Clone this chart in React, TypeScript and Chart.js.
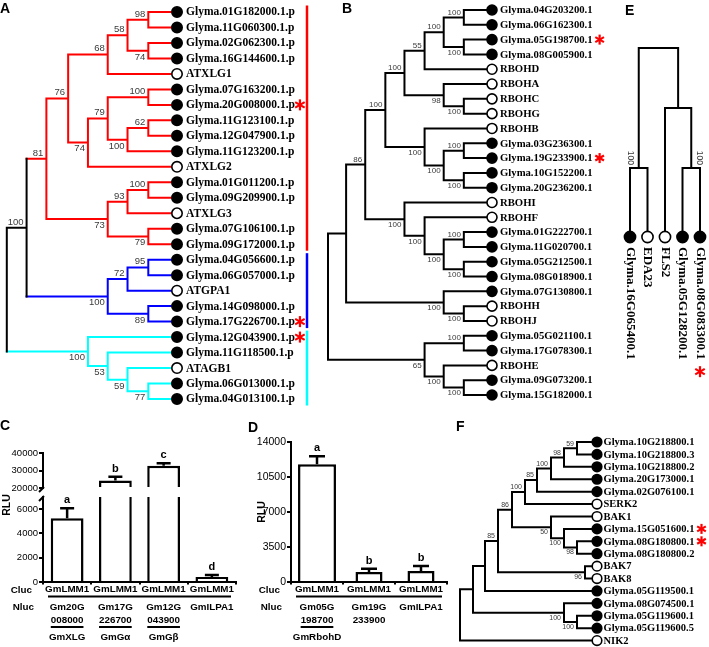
import React, { useEffect, useRef } from 'react';
import { Chart, registerables } from 'chart.js';

Chart.register(...registerables);

const W = 709;
const H = 647;
const SANS = '"Liberation Sans", Arial, sans-serif';
const SERIF = '"Liberation Serif", "Times New Roman", serif';

// ================= DATA =================
// Panel A : G-protein subunit tree (Newick, branch lengths, bootstrap labels)
const treeA =
  '(((((((Glyma.01G182000.1.p:29,Glyma.11G060300.1.p:29)98:21,(Glyma.02G062300.1.p:29,Glyma.16G144600.1.p:29)74:21)58:20,ATXLG1:70)68:40,' +
  '(((Glyma.07G163200.1.p:29,Glyma.20G008000.1.p:29)100:41,((Glyma.11G123100.1.p:29,Glyma.12G047900.1.p:29)62:21,Glyma.11G123200.1.p:50)100:20)79:20,ATXLG2:90)74:20)76:22,' +
  '(((Glyma.01G011200.1.p:29,Glyma.09G209900.1.p:29)100:21,ATXLG3:50)93:20,(Glyma.07G106100.1.p:29,Glyma.09G172000.1.p:29)79:41)73:62)81:20,' +
  '(((Glyma.04G056600.1.p:29,Glyma.06G057000.1.p:29)95:21,ATGPA1:50)72:20,(Glyma.14G098000.1.p:29,Glyma.17G226700.1.p:29)89:41)100:82)100:20,' +
  '(Glyma.12G043900.1.p:90,(Glyma.11G118500.1.p:70,(ATAGB1:50,(Glyma.06G013000.1.p:29,Glyma.04G013100.1.p:29)77:21)59:20)53:20)100:82);';
const starredA = ['Glyma.20G008000.1.p', 'Glyma.17G226700.1.p', 'Glyma.12G043900.1.p'];
const cladesA = [
  ['Glyma.01G182000.1.p', 'Glyma.09G172000.1.p'],
  ['Glyma.04G056600.1.p', 'Glyma.17G226700.1.p'],
  ['Glyma.12G043900.1.p', 'Glyma.04G013100.1.p'],
];
const cladeColorsA = ['#ff0000', '#0000ff', '#00ffff'];

// Panel B : RBOH tree
const treeB =
  '((((((((Glyma.04G203200.1:28,Glyma.06G162300.1:28)100:20,(Glyma.05G198700.1:28,Glyma.08G005900.1:28)100:20)100:19,RBOHD:67)55:20,' +
  '(RBOHA:48,(RBOHC:28,RBOHG:28)100:20)98:39)100:19,(RBOHB:67,((Glyma.03G236300.1:28,Glyma.19G233900.1:28)100:20,(Glyma.10G152200.1:28,Glyma.20G236200.1:28)100:20)100:19)100:39)100:20,' +
  '(RBOHI:87,(RBOHF:67,((Glyma.01G222700.1:28,Glyma.11G020700.1:28)100:20,(Glyma.05G212500.1:28,Glyma.08G018900.1:28)100:20)100:19)100:20)100:39)86:19,' +
  '(Glyma.07G130800.1:48,(RBOHH:28,RBOHJ:28)100:20)100:97):18,' +
  '((Glyma.05G021100.1:28,Glyma.17G078300.1:28)100:39,(RBOHE:48,(Glyma.09G073200.1:28,Glyma.15G182000.1:28)100:20)100:19)65:96);';
const starredB = ['Glyma.05G198700.1', 'Glyma.19G233900.1'];

// Panel E : EDA23 / FLS2 tree
const treeE =
  '((Glyma.16G065400.1:69,EDA23:69)100:120,(FLS2:129,(Glyma.05G128200.1:69,Glyma.08G083300.1:69)100:60):60);';
const starredE = ['Glyma.08G083300.1'];

// Panel F : SERK / BAK tree
const treeF =
  '((((((((((Glyma.10G218800.1:20,Glyma.10G218800.3:20)59:13,Glyma.10G218800.2:33)98:13,Glyma.20G173000.1:46)100:14,Glyma.02G076100.1:60)85:12,SERK2:72)100:13,' +
  '(BAK1:46,(Glyma.15G051600.1:33,(Glyma.08G180800.1:20,Glyma.08G180800.2:20)98:13)100:13)50:39)86:14,(BAK7:12,BAK8:12)96:87)85:13,Glyma.05G119500.1:112):12,' +
  '(Glyma.08G074500.1:33,(Glyma.05G119600.1:20,Glyma.05G119600.5:20)100:13)100:91):13,NIK2:137);';
const starredF = ['Glyma.15G051600.1', 'Glyma.08G180800.1'];

// Panel C : split-luciferase, G-protein subunits
const cCluc = ['GmLMM1', 'GmLMM1', 'GmLMM1', 'GmLMM1'];
const cNlucGene = ['Gm20G', 'Gm17G', 'Gm12G', 'GmILPA1'];
const cNlucId = ['008000', '226700', '043900', ''];
const cProtein = ['GmXLG', 'GmGα', 'GmGβ', ''];
const cMeans = [5250, 24300, 32700, 420];
const cErrors = [830, 2100, 1500, 150];
const cLetters = ['a', 'b', 'c', 'd'];
const cLowTicks = [0, 2000, 4000, 6000];
const cLowMax = 7000;
const cHighTicks = [20000, 30000, 40000];

// Panel D : split-luciferase, RBOHs
const dCluc = ['GmLMM1', 'GmLMM1', 'GmLMM1'];
const dNlucGene = ['Gm05G', 'Gm19G', 'GmILPA1'];
const dNlucId = ['198700', '233900', ''];
const dProtein = ['GmRbohD', '', ''];
const dMeans = [11770, 1000, 1100];
const dErrors = [800, 330, 500];
const dLetters = ['a', 'b', 'b'];
const dTicks = [0, 3500, 7000, 10500, 14000];

// ================= TREE HELPERS =================
type TNode = {
  name: string; len: number; children: TNode[]; depth: number; pos: number;
  parent: TNode | null; lo: number; hi: number; color: string;
};

function parseNewick(src: string): TNode {
  let i = 0;
  const stop = '(),:;';
  const read = (): TNode => {
    const n: TNode = { name: '', len: 0, children: [], depth: 0, pos: 0, parent: null, lo: 0, hi: 0, color: '#000' };
    if (src[i] === '(') {
      i++;
      for (;;) {
        const c = read();
        c.parent = n;
        n.children.push(c);
        if (src[i] === ',') { i++; continue; }
        i++;
        break;
      }
    }
    let name = '';
    while (i < src.length && !stop.includes(src[i])) name += src[i++];
    n.name = name.trim();
    if (src[i] === ':') {
      i++;
      let num = '';
      while (i < src.length && !stop.includes(src[i])) num += src[i++];
      n.len = parseFloat(num);
    }
    return n;
  };
  return read();
}

function layoutTree(root: TNode) {
  const leaves: TNode[] = [];
  const nodes: TNode[] = [];
  const walk = (n: TNode, d: number) => {
    n.depth = d + n.len;
    nodes.push(n);
    if (!n.children.length) {
      n.pos = leaves.length; n.lo = n.hi = n.pos; leaves.push(n); return;
    }
    n.children.forEach((c) => walk(c, n.depth));
    const f = n.children[0];
    const l = n.children[n.children.length - 1];
    n.pos = (f.pos + l.pos) / 2; n.lo = f.lo; n.hi = l.hi;
  };
  walk(root, 0);
  return { leaves, nodes };
}

function drawAsterisk(ctx: CanvasRenderingContext2D, cx: number, cy: number, r: number) {
  ctx.save();
  ctx.strokeStyle = '#ff0000';
  ctx.lineWidth = 2.2;
  for (let k = 0; k < 3; k++) {
    const a = Math.PI / 2 + (k * Math.PI) / 3;
    ctx.beginPath();
    ctx.moveTo(cx - r * Math.cos(a), cy - r * Math.sin(a));
    ctx.lineTo(cx + r * Math.cos(a), cy + r * Math.sin(a));
    ctx.stroke();
  }
  ctx.restore();
}

function drawLetter(ctx: CanvasRenderingContext2D, t: string, x: number, y: number) {
  ctx.save();
  ctx.font = `bold 14px ${SANS}`;
  ctx.fillStyle = '#000';
  ctx.textAlign = 'left';
  ctx.textBaseline = 'alphabetic';
  ctx.fillText(t, x, y);
  ctx.restore();
}

function makeTree(canvas: HTMLCanvasElement, cfg: any) {
  const root = parseNewick(cfg.newick);
  const { leaves, nodes } = layoutTree(root);
  const indexOf = (n: string) => leaves.findIndex((l) => l.name === n);
  const ranges = (cfg.clades || []).map((c: string[]) => [indexOf(c[0]), indexOf(c[1])]);
  nodes.forEach((n) => {
    const k = ranges.findIndex(([a, b]: number[]) => n.lo >= a && n.hi <= b);
    n.color = k >= 0 ? cfg.cladeColors[k] : '#000';
  });
  const V = !!cfg.vertical;
  const P = (depth: number, pos: number) => (V ? { x: pos, y: depth } : { x: depth, y: pos });
  const paths = new Map<string, any[]>();
  const add = (color: string, pts: any[]) => {
    const arr = paths.get(color) || [];
    if (arr.length) arr.push({ x: null, y: null });
    arr.push(...pts);
    paths.set(color, arr);
  };
  nodes.filter((n) => n.children.length).forEach((n) => {
    const f = n.children[0];
    const l = n.children[n.children.length - 1];
    const same = n.children.every((c) => c.color === n.color);
    if (same && n.children.length === 2) {
      add(n.color, [P(f.depth, f.pos), P(n.depth, f.pos), P(n.depth, l.pos), P(l.depth, l.pos)]);
    } else {
      add(n.color, [P(n.depth, f.pos), P(n.depth, l.pos)]);
      n.children.forEach((c) => add(c.color, [P(n.depth, c.pos), P(c.depth, c.pos)]));
    }
  });
  const maxDepth = Math.max(...leaves.map((l) => l.depth));
  const depthScale = { type: 'linear', display: false, min: 0, max: maxDepth, reverse: V };
  const posScale = { type: 'linear', display: false, min: 0, max: leaves.length - 1, reverse: !V };

  const datasets: any[] = [
    {
      data: leaves.map((l) => P(l.depth, l.pos)),
      showLine: false,
      pointRadius: cfg.pointRadius,
      pointBorderWidth: 1.6,
      pointBorderColor: '#000',
      pointBackgroundColor: leaves.map((l) => (l.name.startsWith('Glyma') ? '#000' : '#fff')),
      order: 0,
      clip: false,
    },
  ];
  paths.forEach((data, color) => {
    datasets.push({
      data,
      showLine: true,
      spanGaps: false,
      borderColor: color,
      borderWidth: cfg.lineWidth,
      borderCapStyle: 'square',
      borderJoinStyle: 'miter',
      pointRadius: 0,
      tension: 0,
      fill: false,
      order: 1,
      clip: false,
    });
  });

  const plugin = {
    id: 'treeText',
    afterDatasetsDraw(chart: any) {
      const { ctx, chartArea } = chart;
      const xs = chart.scales.x;
      const ys = chart.scales.y;
      const px = (depth: number, pos: number) =>
        V ? [xs.getPixelForValue(pos), ys.getPixelForValue(depth)] : [xs.getPixelForValue(depth), ys.getPixelForValue(pos)];
      ctx.save();
      ctx.fillStyle = '#000';
      ctx.font = cfg.leafFont;
      ctx.textAlign = 'left';
      ctx.textBaseline = 'middle';
      leaves.forEach((l) => {
        const [x, y] = px(l.depth, l.pos);
        const w = ctx.measureText(l.name).width;
        const star = cfg.starred.includes(l.name);
        if (V) {
          ctx.save();
          ctx.translate(x, y + cfg.labelGap);
          ctx.rotate(Math.PI / 2);
          ctx.fillText(l.name, 0, 0);
          ctx.restore();
          if (star) drawAsterisk(ctx, x, y + cfg.labelGap + w + cfg.starGap, cfg.starR);
        } else {
          ctx.fillText(l.name, x + cfg.labelGap, y + 0.5);
          if (star) drawAsterisk(ctx, x + cfg.labelGap + w + cfg.starGap, y, cfg.starR);
        }
      });
      ctx.font = cfg.bootFont;
      ctx.fillStyle = '#3a3a3a';
      nodes.forEach((n) => {
        if (!n.children.length || !n.name || !n.parent) return;
        const first = n.parent.children[0] === n;
        const [x, y] = px(n.depth, n.pos);
        if (V) {
          ctx.save();
          ctx.translate(first ? x - 4 : x + 4, y - 3);
          ctx.rotate(Math.PI / 2);
          ctx.textAlign = 'right';
          ctx.textBaseline = first ? 'top' : 'bottom';
          ctx.fillText(n.name, 0, 0);
          ctx.restore();
        } else {
          ctx.textAlign = 'right';
          ctx.textBaseline = first ? 'bottom' : 'top';
          ctx.fillText(n.name, x - 3, first ? y - 1 : y + 1.5);
        }
      });
      if (cfg.clades) {
        ctx.lineWidth = 2.5;
        ranges.forEach(([a, b]: number[], k: number) => {
          const bx = chartArea.right + cfg.cladeBarOffset;
          ctx.strokeStyle = cfg.cladeColors[k];
          ctx.beginPath();
          ctx.moveTo(bx, ys.getPixelForValue(a) - 6.5);
          ctx.lineTo(bx, ys.getPixelForValue(b) + 6.5);
          ctx.stroke();
        });
      }
      ctx.restore();
      drawLetter(ctx, cfg.letter, cfg.letterX, cfg.letterY);
    },
  };

  return new Chart(canvas, {
    type: 'scatter',
    data: { datasets },
    options: {
      animation: false,
      responsive: false,
      devicePixelRatio: 1,
      events: [],
      layout: { padding: cfg.padding },
      plugins: { legend: { display: false }, tooltip: { enabled: false } },
      scales: (V ? { x: posScale, y: depthScale } : { x: depthScale, y: posScale }) as any,
    },
    plugins: [plugin],
  } as any);
}

// ================= BAR HELPERS =================
function drawErrors(ctx: any, xs: any, scaleFor: (i: number) => any, means: number[], errs: number[], letters: string[], capHalf: number) {
  ctx.save();
  ctx.strokeStyle = '#000';
  ctx.fillStyle = '#000';
  ctx.lineWidth = 2.5;
  ctx.font = `bold 11px ${SANS}`;
  ctx.textAlign = 'center';
  ctx.textBaseline = 'alphabetic';
  means.forEach((m, i) => {
    const s = scaleFor(i);
    const x = xs.getPixelForValue(i);
    const yTop = s.getPixelForValue(m);
    const yCap = s.getPixelForValue(m + errs[i]);
    ctx.beginPath();
    ctx.moveTo(x, yTop);
    ctx.lineTo(x, yCap);
    ctx.moveTo(x - capHalf, yCap);
    ctx.lineTo(x + capHalf, yCap);
    ctx.stroke();
    ctx.fillText(letters[i], x, yCap - 5);
  });
  ctx.restore();
}

function drawRows(ctx: any, xs: any, axisX: number, bottom: number, cluc: string[], gene: string[], id: string[], prot: string[]) {
  ctx.save();
  ctx.fillStyle = '#000';
  ctx.strokeStyle = '#000';
  ctx.font = `bold 9.8px ${SANS}`;
  ctx.textAlign = 'center';
  ctx.textBaseline = 'middle';
  const n = cluc.length;
  const half = (xs.getPixelForValue(1) - xs.getPixelForValue(0)) / 2;
  cluc.forEach((t, i) => ctx.fillText(t, xs.getPixelForValue(i), bottom + 7.5));
  ctx.lineWidth = 2;
  ctx.beginPath();
  ctx.moveTo(xs.getPixelForValue(0) - half + 5, bottom + 14.5);
  ctx.lineTo(xs.getPixelForValue(n - 1) + half - 5, bottom + 14.5);
  ctx.stroke();
  gene.forEach((t, i) => ctx.fillText(t, xs.getPixelForValue(i), bottom + 25));
  id.forEach((t, i) => {
    if (!t) return;
    const x = xs.getPixelForValue(i);
    ctx.fillText(t, x, bottom + 38);
    if (prot[i]) {
      const w = ctx.measureText(t).width;
      ctx.beginPath();
      ctx.moveTo(x - w / 2, bottom + 45);
      ctx.lineTo(x + w / 2, bottom + 45);
      ctx.stroke();
    }
  });
  prot.forEach((t, i) => t && ctx.fillText(t, xs.getPixelForValue(i), bottom + 55.5));
  ctx.textAlign = 'right';
  ctx.fillText('Cluc', axisX - 11, bottom + 8);
  ctx.fillText('Nluc', axisX - 9, bottom + 25);
  ctx.restore();
}

function drawTitle(ctx: any, x: number, y: number) {
  ctx.save();
  ctx.translate(x, y);
  ctx.rotate(-Math.PI / 2);
  ctx.font = `bold 10.5px ${SANS}`;
  ctx.fillStyle = '#000';
  ctx.textAlign = 'center';
  ctx.textBaseline = 'middle';
  ctx.fillText('RLU', 0, 0);
  ctx.restore();
}

const yAxisBase = (width: number, fontSize: number, ticks: number[]) => ({
  type: 'linear',
  position: 'left',
  grid: { display: true, drawOnChartArea: false, drawTicks: true, tickLength: 4, color: '#000', lineWidth: 2 },
  border: { display: true, color: '#000', width: 2 },
  ticks: {
    color: '#000', padding: 1, autoSkip: false,
    font: { size: fontSize, family: SANS }, callback: (v: any) => String(v),
  },
  afterBuildTicks: (s: any) => { s.ticks = ticks.map((v) => ({ value: v })); },
  afterFit: (s: any) => { s.width = width; },
});

const xAxisBase = {
  type: 'category',
  grid: { display: true, drawOnChartArea: false, drawTicks: true, tickLength: 2.5, color: '#000', lineWidth: 2, offset: true },
  border: { display: true, color: '#000', width: 2 },
  ticks: { display: false },
  afterFit: (s: any) => { s.height = 5; },
};

const barStyle = {
  backgroundColor: '#fff',
  borderColor: '#000',
  borderWidth: 2.5,
  categoryPercentage: 1,
  grouped: false,
};

function makeC(canvas: HTMLCanvasElement) {
  const lowData = cMeans.map((v) => Math.min(v, cLowMax));
  const highData = cMeans.map((v) => (v > cLowMax ? v : null));
  const plugin = {
    id: 'cText',
    afterDraw(chart: any) {
      const { ctx, chartArea } = chart;
      const xs = chart.scales.x;
      const yl = chart.scales.yLow;
      const yh = chart.scales.yHigh;
      drawErrors(ctx, xs, (i) => (cMeans[i] > cLowMax ? yh : yl), cMeans, cErrors, cLetters, 7);
      ctx.save();
      ctx.strokeStyle = '#000';
      ctx.lineWidth = 2;
      const ax = chartArea.left;
      [yh.getPixelForValue(cHighTicks[0]), yl.getPixelForValue(cLowMax)].forEach((y: number) => {
        ctx.beginPath();
        ctx.moveTo(ax - 4, y + 4);
        ctx.lineTo(ax + 1, y - 1);
        ctx.stroke();
      });
      ctx.restore();
      drawRows(ctx, xs, chartArea.left, chartArea.bottom, cCluc, cNlucGene, cNlucId, cProtein);
      drawTitle(ctx, chartArea.left - 36, chartArea.top + 52);
      drawLetter(ctx, 'C', 0, 430);
    },
  };
  return new Chart(canvas, {
    type: 'bar',
    data: {
      labels: cNlucGene,
      datasets: [
        {
          ...barStyle, barPercentage: 0.68, data: lowData, yAxisID: 'yLow',
          borderSkipped: false,
          borderWidth: (c: any) => (cMeans[c.dataIndex] > cLowMax
            ? { left: 2.5, right: 2.5, top: 0, bottom: 0 }
            : { left: 2.5, right: 2.5, top: 2.5, bottom: 0 }),
        },
        { ...barStyle, barPercentage: 0.68, data: highData, yAxisID: 'yHigh', base: cHighTicks[0] },
      ],
    },
    options: {
      animation: false,
      responsive: false,
      devicePixelRatio: 1,
      events: [],
      layout: { padding: { left: 5, right: W - 236, top: 453, bottom: 60 } },
      plugins: { legend: { display: false }, tooltip: { enabled: false } },
      scales: {
        x: xAxisBase,
        yLow: { ...yAxisBase(38, 9.5, cLowTicks), stack: 'c', stackWeight: 85, min: 0, max: cLowMax },
        yGap: {
          type: 'linear', position: 'left', stack: 'c', stackWeight: 9,
          ticks: { display: false }, grid: { display: false }, border: { display: false },
          afterFit: (s: any) => { s.width = 38; },
        },
        yHigh: {
          ...yAxisBase(38, 9.5, cHighTicks), stack: 'c', stackWeight: 35,
          min: cHighTicks[0], max: cHighTicks[cHighTicks.length - 1],
        },
      } as any,
    },
    plugins: [plugin],
  } as any);
}

function makeD(canvas: HTMLCanvasElement) {
  const wide = dMeans.map((v, i) => (i === 0 ? v : null));
  const narrow = dMeans.map((v, i) => (i === 0 ? null : v));
  const plugin = {
    id: 'dText',
    afterDraw(chart: any) {
      const { ctx, chartArea } = chart;
      const xs = chart.scales.x;
      const ys = chart.scales.y;
      drawErrors(ctx, xs, () => ys, dMeans, dErrors, dLetters, 8);
      drawRows(ctx, xs, chartArea.left, chartArea.bottom, dCluc, dNlucGene, dNlucId, dProtein);
      drawTitle(ctx, chartArea.left - 29, (chartArea.top + chartArea.bottom) / 2);
      drawLetter(ctx, 'D', 248, 432);
    },
  };
  return new Chart(canvas, {
    type: 'bar',
    data: {
      labels: dNlucGene,
      datasets: [
        { ...barStyle, barPercentage: 0.73, data: wide },
        { ...barStyle, barPercentage: 0.52, data: narrow },
      ],
    },
    options: {
      animation: false,
      responsive: false,
      devicePixelRatio: 1,
      events: [],
      layout: { padding: { left: 251, right: W - 447, top: 442, bottom: 60 } },
      plugins: { legend: { display: false }, tooltip: { enabled: false } },
      scales: {
        x: xAxisBase,
        y: { ...yAxisBase(40, 10.5, dTicks), min: dTicks[0], max: dTicks[dTicks.length - 1] },
      } as any,
    },
    plugins: [plugin],
  } as any);
}

// ================= CONFIGS =================
const cfgA = {
  newick: treeA, starred: starredA, clades: cladesA, cladeColors: cladeColorsA, vertical: false,
  padding: { left: 5, right: W - 177, top: 12, bottom: H - 399 },
  lineWidth: 2, pointRadius: 5.2, leafFont: `bold 11.5px ${SERIF}`, labelGap: 9,
  bootFont: `9.5px ${SANS}`, starGap: 5, starR: 5.5, cladeBarOffset: 130,
  letter: 'A', letterX: 0, letterY: 13,
};
const cfgB = {
  newick: treeB, starred: starredB, vertical: false,
  padding: { left: 328, right: W - 492, top: 10, bottom: H - 395 },
  lineWidth: 2, pointRadius: 5, leafFont: `bold 10.7px ${SERIF}`, labelGap: 8,
  bootFont: `8px ${SANS}`, starGap: 7, starR: 5,
  letter: 'B', letterX: 342, letterY: 13,
};
const cfgE = {
  newick: treeE, starred: starredE, vertical: true,
  padding: { left: 630, right: W - 700, top: 48, bottom: H - 237 },
  lineWidth: 2, pointRadius: 5.6, leafFont: `bold 13px ${SERIF}`, labelGap: 10,
  bootFont: `8.5px ${SANS}`, starGap: 12, starR: 5.5,
  letter: 'E', letterX: 625, letterY: 15,
};
const cfgF = {
  newick: treeF, starred: starredF, vertical: false,
  padding: { left: 460, right: W - 597, top: 442, bottom: H - 643 },
  lineWidth: 2, pointRadius: 4.8, leafFont: `bold 10.5px ${SERIF}`, labelGap: 6.5,
  bootFont: `7px ${SANS}`, starGap: 7, starR: 5,
  letter: 'F', letterX: 456, letterY: 431,
};

export default function App() {
  const boxRef = useRef<HTMLDivElement>(null);
  useEffect(() => {
    const cv = Array.from(boxRef.current!.querySelectorAll('canvas')) as HTMLCanvasElement[];
    const charts = [
      makeTree(cv[0], cfgA),
      makeTree(cv[1], cfgB),
      makeTree(cv[2], cfgE),
      makeTree(cv[3], cfgF),
      makeC(cv[4]),
      makeD(cv[5]),
    ];
    return () => charts.forEach((c) => c.destroy());
  }, []);
  return (
    <div
      ref={boxRef}
      style={{ position: 'absolute', left: 0, top: 0, width: W, height: H, background: '#fff', overflow: 'hidden' }}
    >
      {[0, 1, 2, 3, 4, 5].map((i) => (
        <canvas
          key={i}
          width={W}
          height={H}
          style={{ position: 'absolute', left: 0, top: 0, width: W, height: H }}
        />
      ))}
    </div>
  );
}
